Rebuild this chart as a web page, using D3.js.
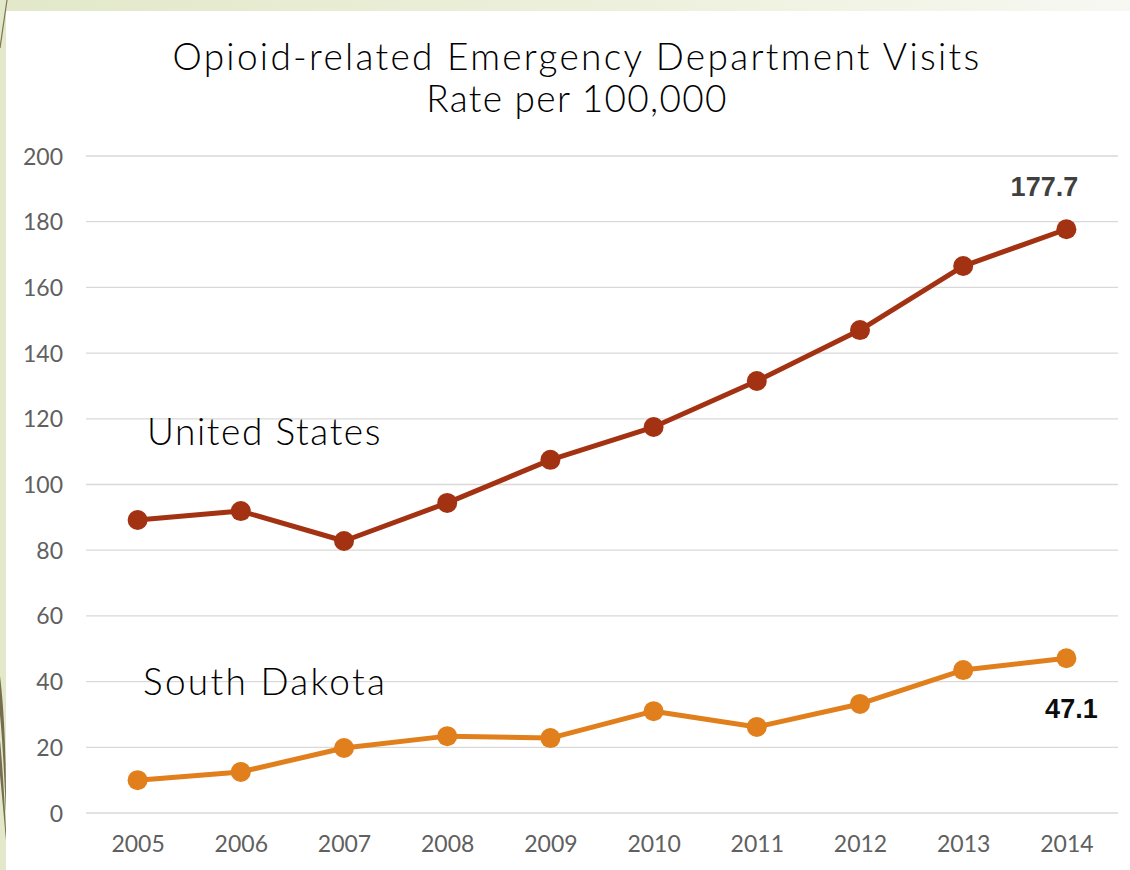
<!DOCTYPE html>
<html>
<head>
<meta charset="utf-8">
<script src="https://cdn.jsdelivr.net/npm/d3@7"></script>
<style>
  html, body { margin: 0; padding: 0; background: #e3e9cb; }
  svg { display: block; }
</style>
</head>
<body>
<svg id="chart" width="1130" height="870"></svg>
<script>
// Opioid-related ED visits, rate per 100,000
const years = ["2005","2006","2007","2008","2009","2010","2011","2012","2013","2014"];
const unitedStates = [89.2, 91.9, 82.8, 94.4, 107.5, 117.5, 131.5, 147.0, 166.5, 177.7];
const southDakota = [10.0, 12.5, 19.8, 23.4, 22.8, 31.0, 26.2, 33.2, 43.5, 47.1];
const yTicks = [0, 20, 40, 60, 80, 100, 120, 140, 160, 180, 200];
const titleLines = ["Opioid-related Emergency Department Visits", "Rate per 100,000"];

const svg = d3.select("#chart");
const W = 1130, H = 870;
const font = "Lato, 'DejaVu Sans', sans-serif";
const boldFont = "'Liberation Sans', Arial, sans-serif";

// slide background with a soft fade toward the right
const defs = svg.append("defs");
const grad = defs.append("linearGradient").attr("id", "bgFade").attr("x1", 0).attr("x2", 1).attr("y1", 0).attr("y2", 0);
grad.append("stop").attr("offset", 0).attr("stop-color", "#e2e8c9");
grad.append("stop").attr("offset", 0.6).attr("stop-color", "#eef1de");
grad.append("stop").attr("offset", 1).attr("stop-color", "#f7f8f2");
svg.append("rect").attr("x", 0).attr("y", 0).attr("width", W).attr("height", H).attr("fill", "url(#bgFade)");
svg.append("rect").attr("x", 0).attr("y", 0).attr("width", 6).attr("height", H).attr("fill", "#e2e8c9");
svg.append("rect").attr("x", 6).attr("y", 11).attr("width", W - 6).attr("height", H - 11).attr("fill", "#ffffff");

// decorative strokes along the left edge
svg.append("path").attr("d", "M7,0 L0,48").attr("stroke", "#7d7454").attr("stroke-width", 1.2).attr("fill", "none");
svg.append("path").attr("d", "M0,676 C3,700 6,740 6,800 L6,812 C4,770 2,735 0,715 Z").attr("fill", "#776d50");
svg.append("path").attr("d", "M0,740 C2,760 4,790 6,830 L6,840 C3,805 1,785 0,775 Z").attr("fill", "#776d50");

const margin = { left: 86, right: 1118, top: 156, bottom: 813 };

const x = d3.scalePoint().domain(years).range([margin.left, margin.right]).padding(0.5);
const y = d3.scaleLinear().domain([0, 200]).range([margin.bottom, margin.top]);

// horizontal gridlines
svg.append("g")
  .selectAll("line")
  .data(yTicks)
  .join("line")
  .attr("x1", margin.left).attr("x2", margin.right)
  .attr("y1", d => y(d)).attr("y2", d => y(d))
  .attr("stroke", "#d9d9d9").attr("stroke-width", 1.3);

// y axis labels
const yAxis = d3.axisLeft(y).tickValues(yTicks).tickSize(0).tickPadding(0);
svg.append("g")
  .attr("transform", `translate(63,0)`)
  .call(yAxis)
  .call(g => g.select(".domain").remove())
  .call(g => g.selectAll("text")
    .attr("fill", "#606060").attr("font-family", font).attr("font-weight", 400)
    .attr("font-size", 23).attr("dy", "0.35em"));

// x axis labels
const xAxis = d3.axisBottom(x).tickSize(0).tickPadding(0);
svg.append("g")
  .attr("transform", `translate(0,${margin.bottom + 31})`)
  .call(xAxis)
  .call(g => g.select(".domain").remove())
  .call(g => g.selectAll("text")
    .attr("fill", "#606060").attr("font-family", font).attr("font-weight", 400)
    .attr("font-size", 23).attr("dy", "0.35em"));

// title
svg.append("g").selectAll("text")
  .data(titleLines)
  .join("text")
  .attr("x", 577).attr("y", (d, i) => 70 + i * 42)
  .attr("text-anchor", "middle")
  .attr("font-family", font).attr("font-weight", 300).attr("font-size", 37)
  .attr("letter-spacing", (d, i) => i === 0 ? 2.3 : 1.3)
  .attr("fill", "#000")
  .text(d => d);

// series lines and markers
const series = [
  { name: "United States", values: unitedStates, color: "#a33213" },
  { name: "South Dakota", values: southDakota, color: "#e07f1c" }
];

const line = d3.line().x((d, i) => x(years[i])).y(d => y(d));

series.forEach(s => {
  svg.append("path")
    .datum(s.values)
    .attr("d", line)
    .attr("fill", "none")
    .attr("stroke", s.color)
    .attr("stroke-width", 5)
    .attr("stroke-linejoin", "round");
  svg.append("g").selectAll("circle")
    .data(s.values)
    .join("circle")
    .attr("cx", (d, i) => x(years[i]))
    .attr("cy", d => y(d))
    .attr("r", 10)
    .attr("fill", s.color);
});

// series name labels
svg.append("text").attr("x", 147).attr("y", 445)
  .attr("font-family", font).attr("font-weight", 300).attr("font-size", 37).attr("letter-spacing", 1.6).attr("fill", "#000")
  .text(series[0].name);
svg.append("text").attr("x", 143).attr("y", 695)
  .attr("font-family", font).attr("font-weight", 300).attr("font-size", 37).attr("letter-spacing", 2.3).attr("fill", "#000")
  .text(series[1].name);

// end-point value labels
const last = years.length - 1;
svg.append("text")
  .attr("x", x(years[last]) - 22).attr("y", y(unitedStates[last]) - 33)
  .attr("text-anchor", "middle")
  .attr("font-family", boldFont).attr("font-weight", 700).attr("font-size", 27).attr("fill", "#404040")
  .text(unitedStates[last].toFixed(1));
svg.append("text")
  .attr("x", x(years[last]) + 5).attr("y", y(southDakota[last]) + 60)
  .attr("text-anchor", "middle")
  .attr("font-family", boldFont).attr("font-weight", 700).attr("font-size", 27).attr("fill", "#0d0d0d")
  .text(southDakota[last].toFixed(1));
</script>
</body>
</html>
